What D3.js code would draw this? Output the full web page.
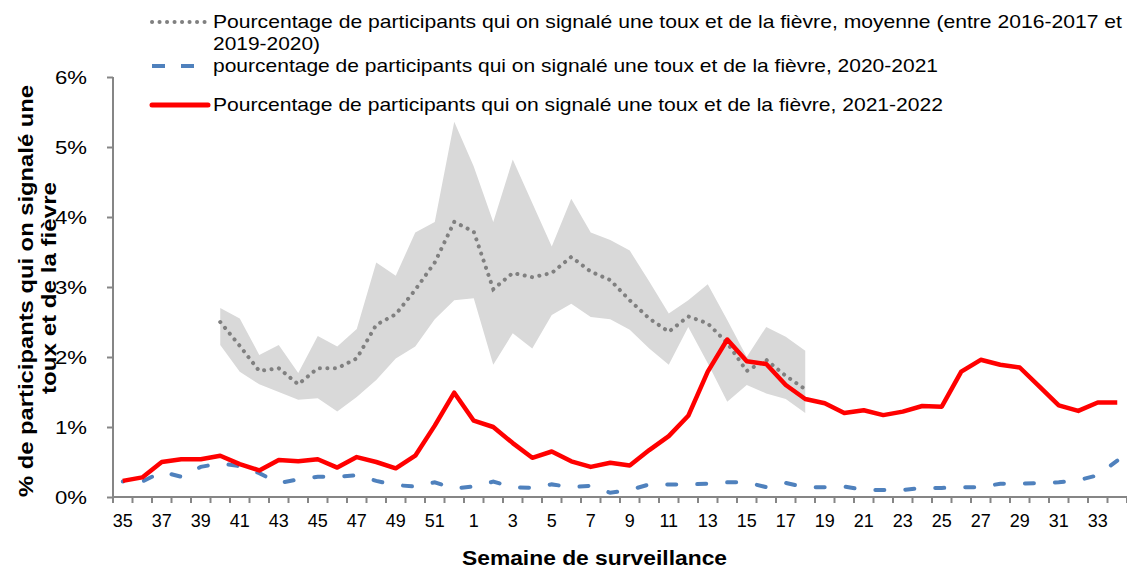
<!DOCTYPE html>
<html>
<head>
<meta charset="utf-8">
<script src="https://cdn.jsdelivr.net/npm/d3@7"></script>
<style>
  body { margin: 0; background: #fff; }
  text { font-family: "Liberation Sans", Arial, sans-serif; fill: #000; }
</style>
</head>
<body>
<svg id="chart" width="1127" height="571"></svg>
<script>
// weeks of surveillance, week 35 through week 34 of next year
const weeks = [35,36,37,38,39,40,41,42,43,44,45,46,47,48,49,50,51,52,
  1,2,3,4,5,6,7,8,9,10,11,12,13,14,15,16,17,18,19,20,21,22,23,24,25,26,27,28,29,30,31,32,33,34];

// 2021-2022 (%)
const season2122 = [0.23,0.28,0.50,0.54,0.54,0.59,0.47,0.38,0.53,0.51,0.54,0.42,0.57,0.50,0.41,0.59,1.02,1.49,
  1.09,1.00,0.77,0.56,0.65,0.51,0.43,0.49,0.45,0.67,0.87,1.16,1.79,2.25,1.94,1.90,1.60,1.40,1.34,1.20,1.24,1.17,1.22,1.30,1.29,1.79,1.96,1.89,1.85,1.58,1.31,1.23,1.35,1.35];

// 2020-2021 (%)
const season2021 = [0.22,0.22,0.36,0.29,0.43,0.48,0.44,0.34,0.20,0.25,0.29,0.29,0.31,0.23,0.17,0.15,0.21,0.12,
  0.15,0.22,0.14,0.13,0.18,0.14,0.16,0.06,0.10,0.18,0.18,0.18,0.19,0.21,0.21,0.14,0.20,0.14,0.14,0.15,0.10,0.10,0.10,0.13,0.13,0.14,0.14,0.19,0.19,0.20,0.21,0.24,0.31,0.52];

// average 2016-2017 to 2019-2020, weeks 40 to 18 (%)
const avgMean = [2.50,2.16,1.80,1.84,1.61,1.84,1.84,1.98,2.46,2.61,2.96,3.35,3.93,
  3.79,2.97,3.20,3.14,3.20,3.43,3.22,3.10,2.81,2.55,2.36,2.58,2.48,2.20,1.80,1.96,1.73,1.54];
const avgHigh = [2.70,2.55,2.03,2.17,1.77,2.30,2.15,2.40,3.35,3.16,3.78,3.93,5.36,
  4.72,3.93,4.82,4.20,3.58,4.26,3.78,3.67,3.52,3.08,2.62,2.81,3.04,2.53,2.00,2.43,2.29,2.09];
const avgLow = [2.17,1.79,1.61,1.50,1.39,1.41,1.22,1.43,1.67,1.98,2.15,2.54,2.81,
  2.84,1.89,2.34,2.12,2.60,2.76,2.57,2.54,2.39,2.12,1.89,2.43,1.91,1.36,1.60,1.48,1.40,1.20];

const yTicks = [0,1,2,3,4,5,6];

const legendLabels = [
  ["Pourcentage de participants qui on signalé une toux et de la fièvre, moyenne (entre 2016-2017 et", "2019-2020)"],
  ["pourcentage de participants qui on signalé une toux et de la fièvre, 2020-2021"],
  ["Pourcentage de participants qui on signalé une toux et de la fièvre, 2021-2022"]
];

const svg = d3.select('#chart');
const margin = { left: 113, right: 0, top: 77, bottom: 74 };
const width = 1127, height = 571;
const axisColor = '#868686';

const x = d3.scaleBand()
  .domain(d3.range(weeks.length))
  .range([margin.left, width - margin.right]);
const y = d3.scaleLinear()
  .domain([0, 6])
  .range([height - margin.bottom, margin.top]);

const cx = i => x(i) + x.bandwidth() / 2;
const offset = 5; // avg series starts at week 40

// band of min/max
const area = d3.area()
  .x((d, i) => cx(i + offset))
  .y0((d, i) => y(avgLow[i]))
  .y1((d, i) => y(avgHigh[i]));
svg.append('path')
  .datum(avgMean)
  .attr('d', area)
  .attr('fill', '#D9D9D9');

const line = d3.line()
  .x(d => cx(d[0]))
  .y(d => y(d[1]));

// axes
const yAxis = svg.append('g')
  .attr('transform', `translate(${margin.left},0)`)
  .call(d3.axisLeft(y).tickValues(yTicks).tickSize(6).tickPadding(20).tickFormat(d => d + '%'));
yAxis.selectAll('text').style('font-size', '19px').attr('dy', '0.35em')
  .attr('textLength', 32).attr('lengthAdjust', 'spacingAndGlyphs');

const xAxis = svg.append('g')
  .attr('transform', `translate(0,${y(0)})`)
  .call(d3.axisBottom(x).tickSize(0).tickFormat((d, i) => i % 2 === 0 ? weeks[i] : ''));
xAxis.selectAll('text').style('font-size', '18px').attr('y', 17).attr('dy', '0.71em');

// tick marks at band boundaries
xAxis.selectAll('line.bound')
  .data(d3.range(weeks.length + 1))
  .enter().append('line')
  .attr('class', 'bound')
  .attr('x1', i => margin.left + i * x.bandwidth())
  .attr('x2', i => margin.left + i * x.bandwidth())
  .attr('y1', 0).attr('y2', 6);

svg.selectAll('.domain, .tick line, line.bound')
  .attr('stroke', axisColor).attr('stroke-width', 2);
svg.selectAll('.domain').attr('d', function() {
  return this.parentNode === yAxis.node()
    ? `M0,${y(0)}V${y(6)}`
    : `M${margin.left},0H${width}`;
});

// series
svg.append('path')
  .datum(avgMean.map((v, i) => [i + offset, v]))
  .attr('d', line)
  .attr('fill', 'none')
  .attr('stroke', '#808080')
  .attr('stroke-width', 4)
  .attr('stroke-linecap', 'round')
  .attr('stroke-dasharray', '0.1 7.4');

const blue = svg.append('path')
  .datum(season2021.map((v, i) => [i, v]))
  .attr('d', line)
  .attr('fill', 'none')
  .attr('stroke', '#4F81BD')
  .attr('stroke-width', 4)
  .attr('stroke-linecap', 'round')
  .attr('stroke-dasharray', '9 21');
// make the pattern finish on a dash, as in the original
const blueLen = blue.node().getTotalLength();
blue.attr('stroke-dashoffset', ((8 - blueLen) % 30 + 30) % 30);

svg.append('path')
  .datum(season2122.map((v, i) => [i, v]))
  .attr('d', line)
  .attr('fill', 'none')
  .attr('stroke', '#FF0000')
  .attr('stroke-width', 4.5)
  .attr('stroke-linejoin', 'round');

// axis titles
svg.append('text')
  .attr('x', 462).attr('y', 565)
  .style('font-size', '20px').style('font-weight', 'bold')
  .attr('textLength', 265).attr('lengthAdjust', 'spacingAndGlyphs')
  .text('Semaine de surveillance');

svg.append('text')
  .attr('transform', 'translate(33,497) rotate(-90)')
  .style('font-size', '20px').style('font-weight', 'bold')
  .attr('textLength', 412).attr('lengthAdjust', 'spacingAndGlyphs')
  .text('% de participants  qui on signalé une');
svg.append('text')
  .attr('transform', 'translate(56,394) rotate(-90)')
  .style('font-size', '20px').style('font-weight', 'bold')
  .attr('textLength', 212).attr('lengthAdjust', 'spacingAndGlyphs')
  .text('toux et de la fièvre');

// legend
const legendY = [22, 66, 105];
const legendLen = [[909, 107], [725], [730]];
const legend = svg.append('g');
const styles = [
  { stroke: '#808080', dash: '0.1 7.4', cap: 'round', w: 4 },
  { stroke: '#4F81BD', dash: '13 16', cap: 'butt', w: 4 },
  { stroke: '#FF0000', dash: null, cap: 'round', w: 5 }
];
legendLabels.forEach((lines, k) => {
  legend.append('line')
    .attr('x1', 152).attr('x2', 208)
    .attr('y1', legendY[k]).attr('y2', legendY[k])
    .attr('stroke', styles[k].stroke)
    .attr('stroke-width', styles[k].w)
    .attr('stroke-linecap', styles[k].cap)
    .attr('stroke-dasharray', styles[k].dash);
  lines.forEach((s, j) => {
    legend.append('text')
      .attr('x', 213).attr('y', legendY[k] + 6 + j * 22)
      .style('font-size', '18.5px')
      .attr('textLength', legendLen[k][j]).attr('lengthAdjust', 'spacingAndGlyphs')
      .text(s);
  });
});
</script>
</body>
</html>
